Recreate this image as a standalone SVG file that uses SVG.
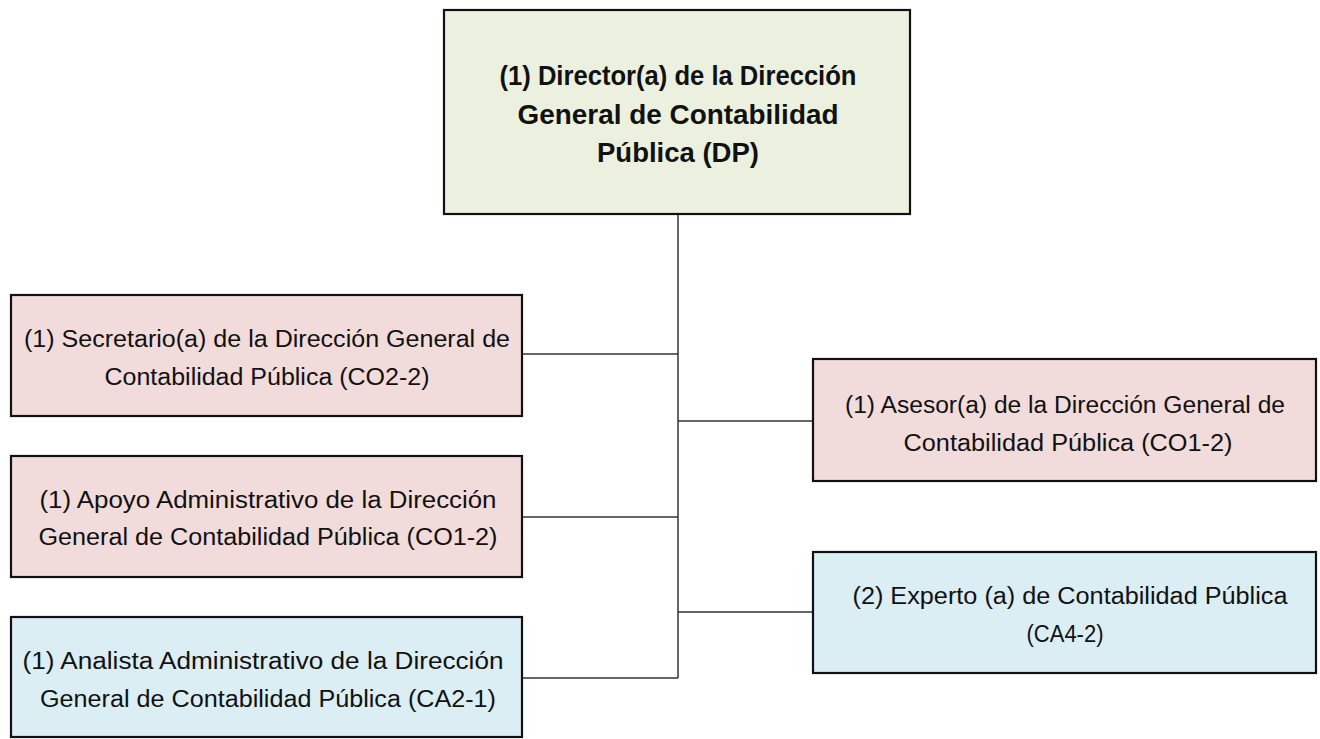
<svg xmlns="http://www.w3.org/2000/svg" width="1320" height="739" viewBox="0 0 1320 739">
<style>
.box{stroke:#111;stroke-width:2.2}
.top{fill:#ebf1de}
.pink{fill:#f2dcdb}
.blue{fill:#dbeef4}
.conn{stroke:#333;stroke-width:1.5;fill:none}
text{font-family:"Liberation Sans",Arial,sans-serif;fill:#111;text-anchor:middle}
.b{font-size:27px;font-weight:bold}
.n{font-size:23.5px}
</style>
<rect width="1320" height="739" fill="#fff"/>
<g id="connectors">
<path class="conn" d="M678 214 V678"/>
<path class="conn" d="M522 354 H678"/>
<path class="conn" d="M522 517 H678"/>
<path class="conn" d="M522 678 H678"/>
<path class="conn" d="M678 421 H813"/>
<path class="conn" d="M678 612 H813"/>
</g>
<g id="director">
<rect class="box top" x="444" y="10" width="466" height="204"/>
<text class="b" x="678" y="85" textLength="357" lengthAdjust="spacingAndGlyphs">(1) Director(a) de la Dirección</text>
<text class="b" x="678" y="124" textLength="321" lengthAdjust="spacingAndGlyphs">General de Contabilidad</text>
<text class="b" x="678" y="162" textLength="162" lengthAdjust="spacingAndGlyphs">Pública  (DP)</text>
</g>
<g id="secretario">
<rect class="box pink" x="11" y="295" width="511" height="121"/>
<text class="n" x="267" y="347" textLength="486" lengthAdjust="spacingAndGlyphs">(1) Secretario(a) de la Dirección General de</text>
<text class="n" x="267" y="385" textLength="325" lengthAdjust="spacingAndGlyphs">Contabilidad Pública (CO2-2)</text>
</g>
<g id="apoyo">
<rect class="box pink" x="11" y="456" width="511" height="121"/>
<text class="n" x="268" y="508" textLength="457" lengthAdjust="spacingAndGlyphs">(1) Apoyo Administrativo de la Dirección</text>
<text class="n" x="268" y="545" textLength="459" lengthAdjust="spacingAndGlyphs">General de Contabilidad Pública (CO1-2)</text>
</g>
<g id="analista">
<rect class="box blue" x="11" y="617" width="511" height="120"/>
<text class="n" x="263" y="669" textLength="481" lengthAdjust="spacingAndGlyphs">(1) Analista Administrativo de la Dirección</text>
<text class="n" x="268" y="707" textLength="456" lengthAdjust="spacingAndGlyphs">General de Contabilidad Pública (CA2-1)</text>
</g>
<g id="asesor">
<rect class="box pink" x="813" y="359" width="503" height="122"/>
<text class="n" x="1065" y="413" textLength="440" lengthAdjust="spacingAndGlyphs">(1) Asesor(a) de la Dirección General de</text>
<text class="n" x="1068" y="451" textLength="329" lengthAdjust="spacingAndGlyphs">Contabilidad Pública (CO1-2)</text>
</g>
<g id="experto">
<rect class="box blue" x="813" y="552" width="503" height="121"/>
<text class="n" x="1070" y="604" textLength="435" lengthAdjust="spacingAndGlyphs">(2) Experto (a) de  Contabilidad Pública</text>
<text class="n" x="1065" y="642" textLength="77" lengthAdjust="spacingAndGlyphs">(CA4-2)</text>
</g>
</svg>
